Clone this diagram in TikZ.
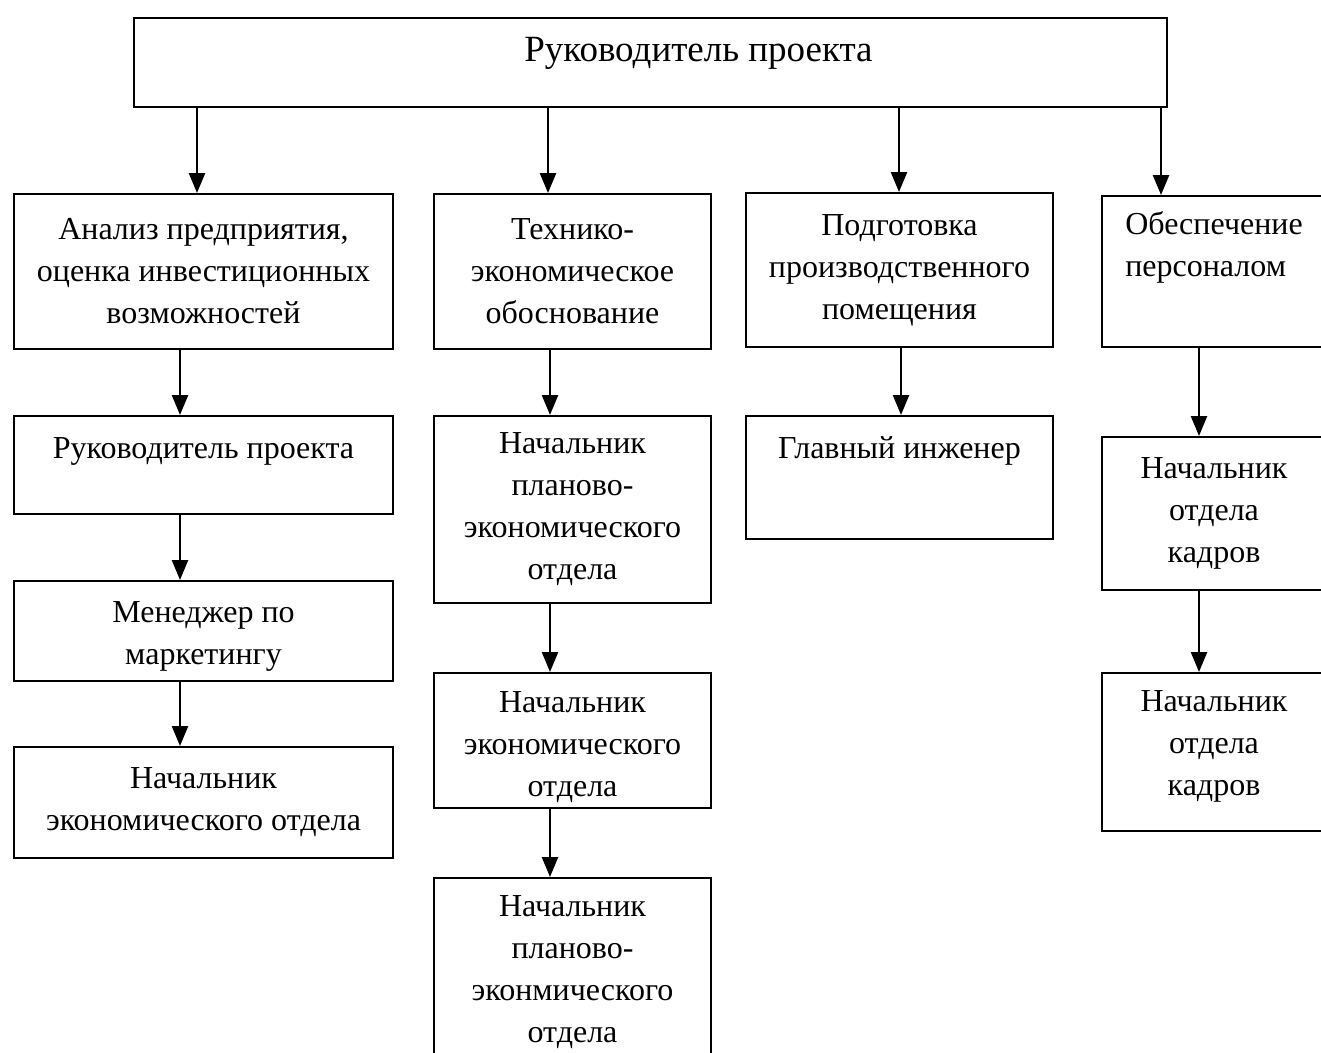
\documentclass[tikz,border=0pt]{standalone}
\usepackage{fontspec}
\setmainfont{Liberation Serif}
\usepackage{tikz}
\usetikzlibrary{arrows.meta,positioning}

\tikzset{
  box/.style={draw, line width=2pt, anchor=north west, align=center,
    inner sep=0pt, font=\fontsize{32}{42}\selectfont},
  arr/.style={-{Triangle[width=16pt,length=20pt]}, line width=2.5pt},
}

\begin{document}
\begin{tikzpicture}[x=1pt,y=-1pt]
    \useasboundingbox (0,0) rectangle (1321,1052);
    \clip (0,0) rectangle (1321,1052);

    % top
    \node[box, minimum width=1033, minimum height=89, font=\fontsize{37}{42}\selectfont,
      text height=26, text depth=28] (ruk) at (133,17) {\hspace*{96pt}Руководитель проекта};

    % column a
    \node[box, minimum width=379, minimum height=155] (analiz) at (13,193)
      {Анализ предприятия,\\ оценка инвестиционных\\ возможностей};
    \node[box, minimum width=379, minimum height=98, text height=24, text depth=38] (ruk2) at (13,415)
      {Руководитель проекта};
    \node[box, minimum width=379, minimum height=100] (menedzher) at (13,580)
      {\rule{0pt}{32pt}Менеджер по\\ маркетингу};
    \node[box, minimum width=379, minimum height=111] (nachek) at (13,746)
      {Начальник\\ экономического отдела};

    % column b
    \node[box, minimum width=277, minimum height=155] (teo) at (433,193)
      {Технико-\\ экономическое\\ обоснование};
    \node[box, minimum width=277, minimum height=187] (nachpe) at (433,415)
      {Начальник\\ планово-\\ экономического\\ отдела};
    \node[box, minimum width=277, minimum height=135] (nachek2) at (433,672)
      {\rule{0pt}{34pt}Начальник\\ экономического\\ отдела};
    \node[box, minimum width=277, minimum height=188] (nachpe2) at (433,877)
      {Начальник\\ планово-\\ эконмического\\ отдела};

    % column c
    \node[box, minimum width=307, minimum height=154] (podg) at (745,192)
      {Подготовка\\ производственного\\ помещения};
    \node[box, minimum width=307, minimum height=123, text height=24, text depth=62] (inzh) at (745,415)
      {Главный инженер};

    % column d
    \node[box, minimum width=224, minimum height=151, align=left] (obesp) at (1101,195)
      {Обеспечение\\ персоналом\\ \strut};
    \node[box, minimum width=224, minimum height=153] (kadr) at (1101,436)
      {Начальник\\ отдела\\ кадров};
    \node[box, minimum width=224, minimum height=158] (kadr2) at (1101,672)
      {Начальник\\ отдела\\ кадров\rule[-18pt]{0pt}{0pt}};

    % arrow axes
    \coordinate (xa) at (197,0);
    \coordinate (xb) at (548,0);
    \coordinate (xc) at (899,0);
    \coordinate (xd) at (1161,0);
    \coordinate (xa2) at (180,0);
    \coordinate (xb2) at (550,0);
    \coordinate (xc2) at (901,0);
    \coordinate (xd2) at (1199,0);

    \draw[arr] (ruk.south -| xa) -- (analiz.north -| xa);
    \draw[arr] (ruk.south -| xb) -- (teo.north -| xb);
    \draw[arr] (ruk.south -| xc) -- (podg.north -| xc);
    \draw[arr] (ruk.south -| xd) -- (obesp.north -| xd);

    \draw[arr] (analiz.south -| xa2) -- (ruk2.north -| xa2);
    \draw[arr] (ruk2.south -| xa2) -- (menedzher.north -| xa2);
    \draw[arr] (menedzher.south -| xa2) -- (nachek.north -| xa2);

    \draw[arr] (teo.south -| xb2) -- (nachpe.north -| xb2);
    \draw[arr] (nachpe.south -| xb2) -- (nachek2.north -| xb2);
    \draw[arr] (nachek2.south -| xb2) -- (nachpe2.north -| xb2);

    \draw[arr] (podg.south -| xc2) -- (inzh.north -| xc2);

    \draw[arr] (obesp.south -| xd2) -- (kadr.north -| xd2);
    \draw[arr] (kadr.south -| xd2) -- (kadr2.north -| xd2);
\end{tikzpicture}
\end{document}
